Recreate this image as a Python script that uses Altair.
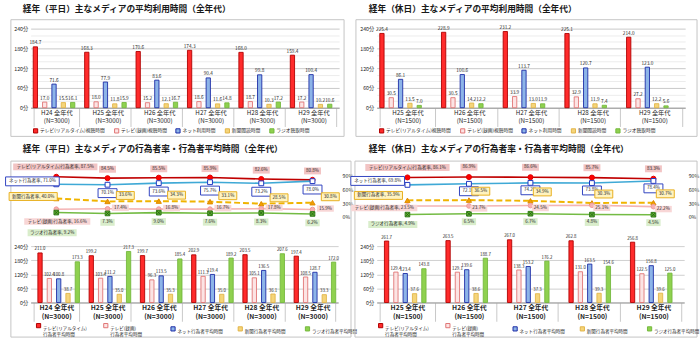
import altair as alt
import pandas as pd

FONT = "Noto Sans CJK JP"
TXT = "#262626"

# ---------------- data ----------------
years_wd = ["H24", "H25", "H26", "H27", "H28", "H29"]
years_hd = ["H25", "H26", "H27", "H28", "H29"]

top_names = ["テレビ(リアルタイム)視聴時間", "テレビ(録画)視聴時間", "ネット利用時間", "新聞閲読時間", "ラジオ聴取時間"]
bot_names = ["テレビ(リアルタイム)|行為者平均時間", "テレビ(録画)|行為者平均時間", "ネット行為者平均時間", "新聞行為者平均時間", "ラジオ行為者平均時間"]
rate_names = ["テレビ(リアルタイム)行為者率", "ネット行為者率", "新聞行為者率", "テレビ(録画)行為者率", "ラジオ行為者率"]
rate_keys = ["tv_rt", "net", "news", "tv_rec", "radio"]

# 平均利用時間 (平日)
wd_tv_rt = [184.7, 168.3, 170.6, 174.3, 168.0, 159.4]
wd_tv_rec = [17.0, 18.0, 15.2, 18.6, 18.7, 17.2]
wd_net = [71.6, 77.9, 83.6, 90.4, 99.8, 100.4]
wd_news = [15.5, 11.8, 12.1, 11.6, 10.3, 10.2]
wd_radio = [16.1, 15.9, 16.7, 14.8, 17.2, 10.6]

# 平均利用時間 (休日)
hd_tv_rt = [225.4, 228.9, 231.2, 225.1, 214.0]
hd_tv_rec = [30.5, 30.5, 33.9, 32.9, 27.2]
hd_net = [86.1, 100.6, 113.7, 120.7, 123.0]
hd_news = [13.5, 14.2, 13.0, 11.9, 12.2]
hd_radio = [7.0, 12.2, 11.9, 7.4, 5.6]

# 行為者率 (平日, %)
wd_rate_tv_rt = [87.5, 84.5, 85.5, 85.9, 82.6, 80.8]
wd_rate_net = [71.0, 70.1, 73.6, 75.7, 73.2, 78.0]
wd_rate_news = [40.0, 33.6, 34.3, 33.1, 28.5, 30.8]
wd_rate_tv_rec = [16.6, 17.4, 16.8, 16.7, 17.8, 15.9]
wd_rate_radio = [9.2, 7.3, 9.0, 7.6, 8.3, 6.2]

# 行為者率 (休日, %)
hd_rate_tv_rt = [86.1, 86.9, 86.6, 85.7, 83.3]
hd_rate_net = [69.8, 72.1, 74.2, 73.8, 78.4]
hd_rate_news = [35.9, 36.5, 34.9, 30.3, 30.7]
hd_rate_tv_rec = [23.5, 23.7, 24.5, 25.1, 22.2]
hd_rate_radio = [4.9, 6.5, 6.7, 4.8, 4.5]

# 行為者平均時間 (平日, 分)
wd_avg_tv_rt = [211.0, 199.2, 199.7, 202.9, 203.5, 197.4]
wd_avg_tv_rec = [102.4, 103.4, 96.3, 111.3, 105.1, 108.5]
wd_avg_net = [100.8, 111.2, 113.5, 119.4, 136.5, 128.7]
wd_avg_news = [38.7, 35.0, 35.3, 35.0, 36.1, 33.3]
wd_avg_radio = [173.3, 217.3, 185.4, 189.2, 207.6, 172.0]

# 行為者平均時間 (休日, 分)
hd_avg_tv_rt = [261.7, 263.5, 267.0, 262.8, 256.8]
hd_avg_tv_rec = [129.4, 129.1, 138.3, 131.0, 122.5]
hd_avg_net = [123.4, 139.6, 153.2, 163.5, 156.8]
hd_avg_news = [37.6, 38.6, 37.3, 39.3, 39.6]
hd_avg_radio = [143.8, 188.7, 176.2, 154.6, 125.0]

# ---------------- styles ----------------
BAR_FILL = ["#ff2b2b", "#fce4e4", "#8db4e8", "#f5d57a", "#8fd14f"]
BAR_STROKE = ["#b00000", "#e07474", "#1c2ca6", "#e2b448", "#74b83e"]

STYLE = {
    "tv_rt": dict(line="#c00000", lw=1.6, shape="circle", psize=26, pfill="#ff0000", pstroke="#e00000",
                  bfill="#f2c4c4", bstroke=None, boxh=7, padw=5),
    "net": dict(line="#3fa9d6", lw=1.6, shape="square", psize=24, pfill="#ffffff", pstroke="#2038c0",
                bfill="#ffffff", bstroke="#3244c0", boxh=9, padw=7),
    "news": dict(line="#f0b400", lw=2.0, dash=[6, 3], shape="triangle-up", psize=28, pfill="#f0a000",
                 pstroke="#e08a00", bfill="#fff3c0", bstroke="#e8b020", boxh=8, padw=6),
    "tv_rec": dict(line="#f4b4b4", lw=1.6, shape="circle", psize=22, pfill="#f6b0b0", pstroke="#ee9c9c",
                   bfill="#f8d6d6", bstroke=None, boxh=6.5, padw=5),
    "radio": dict(line="#74bb44", lw=1.6, shape="square", psize=22, pfill="#62b030", pstroke="#2f7a18",
                  bfill="#d9edcb", bstroke=None, boxh=7, padw=5),
}

LFS = 4.6  # label font size in line chart


def text_w(s, fs):
    w = 0.0
    for ch in s:
        if ord(ch) > 0x2000:
            w += fs
        elif ch in " ,.":
            w += 0.32 * fs
        else:
            w += 0.58 * fs
    return w


def box_shape(w, h):
    r = h / w
    return f"M-1,-{r:.4f}L1,-{r:.4f}L1,{r:.4f}L-1,{r:.4f}Z"


def frame(x1, x2, y1, y2):
    return alt.Chart(pd.DataFrame({"k": [0]})).mark_rect(
        fill="#ffffff", fillOpacity=0, stroke="#c4c4c4", strokeWidth=1
    ).encode(x=alt.value(x1), x2=alt.value(x2), y=alt.value(y1), y2=alt.value(y2))


def x_enc(cats, n, fs, weight, tick):
    return alt.X(
        "c:N", sort=cats, title=None,
        scale=alt.Scale(paddingInner=0.1, paddingOuter=0.05),
        axis=alt.Axis(
            labelAngle=0,
            labelExpr=f"isValid(datum.value) ? [datum.value + ' 全年代', '(N={n})'] : ''",
            labelFont=FONT, labelFontSize=fs, labelFontWeight=weight, labelColor=TXT,
            labelLineHeight=fs + 2, labelPadding=2 - tick, labelBaseline="top",
            tickBand="extent", tickSize=tick, tickColor="#c8c8c8",
            domainColor="#9a9a9a", grid=False,
        ),
    )


def make_bar_layers(cats, names, arrays, X, Y, legend, label_fs):
    rows = []
    for i, c in enumerate(cats):
        for s, arr in zip(names, arrays):
            rows.append({"c": c, "s": s, "v": arr[i], "t": f"{arr[i]:.1f}"})
    df = pd.DataFrame(rows)
    XO = alt.XOffset("s:N", sort=names, scale=alt.Scale(paddingInner=0.08, paddingOuter=0.0))
    bars = alt.Chart(df).mark_bar(strokeWidth=0.9).encode(
        x=X, xOffset=XO, y=Y,
        fill=alt.Fill("s:N", sort=names, scale=alt.Scale(domain=names, range=BAR_FILL), legend=legend),
        stroke=alt.Stroke("s:N", sort=names, scale=alt.Scale(domain=names, range=BAR_STROKE), legend=legend),
    )
    labels = alt.Chart(df).mark_text(
        fontSize=label_fs, font=FONT, color=TXT, baseline="bottom", dy=-1.5
    ).encode(x=X, xOffset=XO, y=Y, text="t:N")
    return [bars, labels]


def make_legend(x, y, fs, gap, multiline):
    kw = dict(
        orient="none", legendX=x, legendY=y, direction="horizontal", title=None,
        symbolType="square", symbolSize=18, symbolStrokeWidth=1, labelFont=FONT,
        labelFontSize=fs, labelColor=TXT, columnPadding=gap, labelOffset=1.5,
        labelLimit=300, symbolOffset=0,
    )
    if multiline:
        kw.update(labelExpr="split(datum.label, '|')", gridAlign="all", labelBaseline="top")
    return alt.Legend(**kw)


def title_params(text, offset):
    return alt.TitleParams(text=text, anchor="start", frame="group", dx=-8, offset=offset,
                           fontSize=8.8, font=FONT, fontWeight="bold", color="#1a1a1a")


def top_panel(title, cats, n, arrays, width, frame_box, leg_x):
    X = x_enc(cats, n, 6.3, "normal", 19)
    Y = alt.Y(
        "v:Q", title=None, scale=alt.Scale(domain=[0, 255], nice=False),
        axis=alt.Axis(
            values=list(range(0, 241, 20)),
            labelExpr="datum.value % 60 === 0 ? datum.value + '分' : ''",
            gridColor={"condition": {"test": "datum.value % 60 === 0", "value": "#c8c8c8"}, "value": "#ececec"},
            domain=False, ticks=False, labelFontSize=5.3, labelPadding=3, labelFont=FONT, labelColor=TXT,
        ),
    )
    legend = make_legend(leg_x, 105, 4.8, 6, False)
    layers = [frame(*frame_box)] + make_bar_layers(cats, top_names, arrays, X, Y, legend, 4.8)
    return alt.layer(*layers).properties(width=width, height=85, title=title_params(title, 6))


def line_layers(cats, rate_arrays, cfg, X, Y):
    lines, points, labels = [], [], []
    for key, name, vals in zip(rate_keys, rate_names, rate_arrays):
        st = STYLE[key]
        lc = cfg[key]
        df = pd.DataFrame({"c": cats, "v": vals, "t": [f"{v:.1f}%" for v in vals]})
        lkw = dict(color=st["line"], strokeWidth=st["lw"])
        if "dash" in st:
            lkw["strokeDash"] = st["dash"]
        lines.append(alt.Chart(df).mark_line(**lkw).encode(x=X, y=Y))
        points.append(alt.Chart(df).mark_point(
            shape=st["shape"], size=st["psize"], filled=True, fill=st["pfill"], stroke=st["pstroke"],
            strokeWidth=1, opacity=1).encode(x=X, y=Y))
        if key == "radio":
            points.append(alt.Chart(df).mark_point(
                shape="M-0.8,-0.8L0.8,0.8M0.8,-0.8L-0.8,0.8", size=22, filled=False, stroke="#1d5c10",
                strokeWidth=0.8, opacity=1).encode(x=X, y=Y))
        # value labels (all but the first category)
        rest = df.iloc[1:]
        vw = max(text_w(t, LFS) for t in rest["t"]) + st["padw"]
        bkw = dict(shape=box_shape(vw, st["boxh"]), size=vw * vw, filled=True, fill=st["bfill"], opacity=1,
                   xOffset=lc["vdx"], yOffset=lc["vdy"])
        if st["bstroke"]:
            bkw.update(stroke=st["bstroke"], strokeWidth=1)
        else:
            bkw.update(strokeWidth=0)
        labels.append(alt.Chart(rest).mark_point(**bkw).encode(x=X, y=Y))
        labels.append(alt.Chart(rest).mark_text(
            fontSize=LFS, font=FONT, color=TXT, dx=lc["vdx"], dy=lc["vdy"]).encode(x=X, y=Y, text="t:N"))
        # series label at the first category
        ftxt = f"{name}, {vals[0]:.1f}%"
        fw = text_w(ftxt, LFS) + st["padw"]
        mode, off = lc["first"]
        if mode == "right":
            fdx = off - fw / 2
        elif mode == "left":
            fdx = off + fw / 2
        else:
            fdx = off
        fdy = lc["fdy"]
        first = pd.DataFrame({"c": [cats[0]], "v": [vals[0]], "t": [ftxt]})
        fkw = dict(shape=box_shape(fw, st["boxh"]), size=fw * fw, filled=True, fill=st["bfill"], opacity=1,
                   xOffset=fdx, yOffset=fdy)
        if st["bstroke"]:
            fkw.update(stroke=st["bstroke"], strokeWidth=1)
        else:
            fkw.update(strokeWidth=0)
        labels.append(alt.Chart(first).mark_point(**fkw).encode(x=X, y=Y))
        labels.append(alt.Chart(first).mark_text(
            fontSize=LFS, font=FONT, color=TXT, dx=fdx, dy=fdy).encode(x=X, y=Y, text="t:N"))
    return lines + points + labels


def bottom_panel(title, cats, n, avg_arrays, rate_arrays, cfg, width, frame_box, leg_x):
    X = x_enc(cats, n, 6.8, "bold", 19)
    Yb = alt.Y(
        "v:Q", title=None, scale=alt.Scale(domain=[0, 593.7], nice=False),
        axis=alt.Axis(values=[0, 60, 120, 180, 240], labelExpr="datum.value + '分'", gridColor="#cfcfcf",
                      domain=False, ticks=False, labelFontSize=5.3, labelPadding=3, labelFont=FONT,
                      labelColor=TXT),
    )
    Yl = alt.Y(
        "v:Q", title=None, scale=alt.Scale(domain=[-187.6, 117.5], nice=False, zero=False),
        axis=alt.Axis(orient="right", values=[0, 30, 60, 90], labelExpr="datum.value + '%'",
                      gridColor="#e6e6e6", domain=False, ticks=False, labelFontSize=5.3, labelPadding=4,
                      labelFont=FONT, labelColor=TXT),
    )
    legend = make_legend(leg_x, 161, 4.6, 12, True)
    bar_grp = alt.layer(*make_bar_layers(cats, bot_names, avg_arrays, X, Yb, legend, 4.4))
    line_grp = alt.layer(*line_layers(cats, rate_arrays, cfg, X, Yl))
    return alt.layer(frame(*frame_box), bar_grp, line_grp).resolve_scale(y="independent").properties(
        width=width, height=141, title=title_params(title, 7))


cfg_wd = {
    "tv_rt": dict(vdx=0, vdy=-9, first=("center", -1), fdy=-10),
    "net": dict(vdx=0, vdy=8.5, first=("right", 3), fdy=-3),
    "news": dict(vdx=18, vdy=-6, first=("right", 1), fdy=-2),
    "tv_rec": dict(vdx=13, vdy=-1, first=("center", 1), fdy=12.5),
    "radio": dict(vdx=0, vdy=9, first=("left", -29), fdy=20.5),
}
cfg_hd = {
    "tv_rt": dict(vdx=0, vdy=-10, first=("center", 0), fdy=-10),
    "net": dict(vdx=0, vdy=7.5, first=("right", -3), fdy=-4),
    "news": dict(vdx=12, vdy=-9, first=("right", -5), fdy=-5),
    "tv_rec": dict(vdx=10, vdy=2.5, first=("right", 10), fdy=2),
    "radio": dict(vdx=0, vdy=8, first=("right", 10), fdy=10),
}

tl = top_panel("経年（平日）主なメディアの平均利用時間（全年代）", years_wd, 3000,
               [wd_tv_rt, wd_tv_rec, wd_net, wd_news, wd_radio], 312, (-20, 317, -4, 114), 2)
tr = top_panel("経年（休日）主なメディアの平均利用時間（全年代）", years_hd, 1500,
               [hd_tv_rt, hd_tv_rec, hd_net, hd_news, hd_radio], 312, (-21, 324, -4, 114), 2)
bl = bottom_panel("経年（平日）主なメディアの行為者率・行為者平均時間（全年代）", years_wd, 3000,
                  [wd_avg_tv_rt, wd_avg_tv_rec, wd_avg_net, wd_avg_news, wd_avg_radio],
                  [wd_rate_tv_rt, wd_rate_net, wd_rate_news, wd_rate_tv_rec, wd_rate_radio],
                  cfg_wd, 311, (-20, 324, -2, 176), 5)
br = bottom_panel("経年（休日）主なメディアの行為者率・行為者平均時間（全年代）", years_hd, 1500,
                  [hd_avg_tv_rt, hd_avg_tv_rec, hd_avg_net, hd_avg_news, hd_avg_radio],
                  [hd_rate_tv_rt, hd_rate_net, hd_rate_news, hd_rate_tv_rec, hd_rate_radio],
                  cfg_hd, 311, (-22, 324, -2, 176), 1)

chart = alt.concat(
    tl, tr, bl, br, columns=2, spacing={"row": 56, "column": 38}, bounds="flush"
).resolve_scale(
    fill="independent", stroke="independent"
).properties(
    padding={"left": 3, "top": 2, "right": 0, "bottom": 0}, background="#ffffff"
).configure(font=FONT).configure_view(stroke=None)

chart.save("out.html", embed_options={"renderer": "svg", "actions": False})
